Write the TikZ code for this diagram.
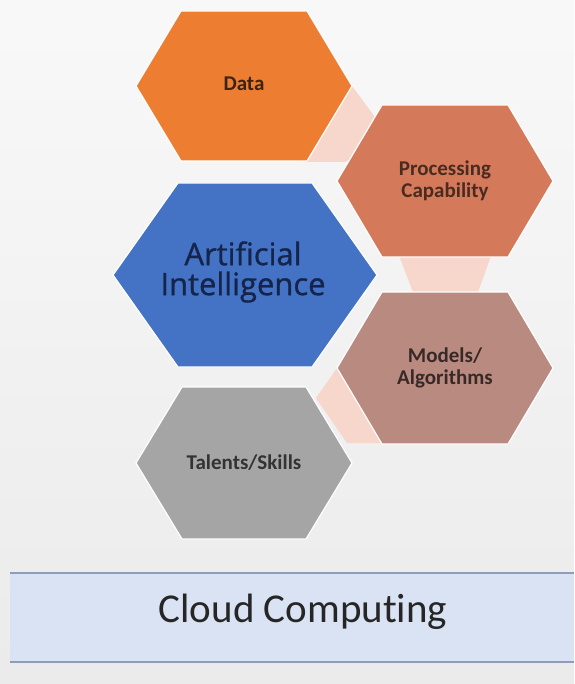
\documentclass[tikz,border=0pt]{standalone}
\usepackage{fontspec}
\setmainfont{Carlito}[RawFeature=-liga]
\newfontfamily\aifont{Open Sans}[FakeBold=0.9]
\definecolor{bgc}{HTML}{F2F2F2}
\definecolor{pinkc}{HTML}{F7D6CB}
\definecolor{datac}{HTML}{ED7D31}
\definecolor{procc}{HTML}{D47A5A}
\definecolor{aic}{HTML}{4472C4}
\definecolor{modc}{HTML}{B98A80}
\definecolor{talc}{HTML}{A5A5A5}
\definecolor{cloudfill}{HTML}{DAE3F3}
\definecolor{cloudline}{HTML}{8E9DB8}
\definecolor{aitext}{HTML}{14244A}
\definecolor{datatext}{HTML}{3A2414}
\newcommand{\hexpath}[6]{\filldraw[hexbase,#1] (#2-#4,#3) -- (#2-#5,#3-#6) -- (#2+#5,#3-#6) -- (#2+#4,#3) -- (#2+#5,#3+#6) -- (#2-#5,#3+#6) -- cycle;}
\tikzset{
  hexbase/.style={draw=white, line width=1.2pt, line join=miter},
  lbl/.style={font=\fontsize{21}{22}\selectfont\bfseries, align=center, inner sep=0pt},
  ailbl/.style={font=\aifont\fontsize{31}{30}\selectfont, align=center, inner sep=0pt, text=aitext},
  cloudlbl/.style={font=\fontsize{41}{41}\selectfont, inner sep=0pt, text=black!85}
}
\begin{document}
\begin{tikzpicture}[x=1pt,y=-1pt]
\useasboundingbox (0,0) rectangle (574,684);
\shade[top color=white!50!bgc, bottom color=bgc!97!black] (0,0) rectangle (574,684);
% pink links
\fill[pinkc] (352,86) -- (392,140) -- (345,162) -- (303,162) -- cycle;
\fill[pinkc] (395,245) -- (495,245) -- (478,292) -- (413,292) -- cycle;
\fill[pinkc] (337,368) -- (316,398) -- (347,443) -- (390,443) -- cycle;
% hexagons
\hexpath{fill=datac}{244}{86}{108}{63}{75}
\hexpath{fill=procc}{445}{181}{108}{63}{76}
\hexpath{fill=aic}{245}{275}{132}{67}{92}
\hexpath{fill=modc}{445}{368}{108}{63}{76}
\hexpath{fill=talc}{244}{463}{108}{62}{76}
% labels
\node[lbl, text=datatext] (data) at (244,84) {Data};
\node[lbl, text=procc!35!black] (proc) at (445,181) {Processing\\Capability};
\node[ailbl] (ai) at (243,272) {Artificial\\Intelligence};
\node[lbl, text=modc!30!black] (models) at (445,368) {Models/\\Algorithms};
\node[lbl, text=black!80] (talents) at (244,463) {Talents/Skills};
% cloud bar
\fill[cloudfill] (10,573) rectangle (574,662);
\draw[cloudline, line width=1.5pt] (10,573) -- (574,573);
\draw[cloudline, line width=1.5pt] (10,662) -- (574,662);
\node[cloudlbl] (cloud) at (303,612) {Cloud Computing};
\end{tikzpicture}
\end{document}
